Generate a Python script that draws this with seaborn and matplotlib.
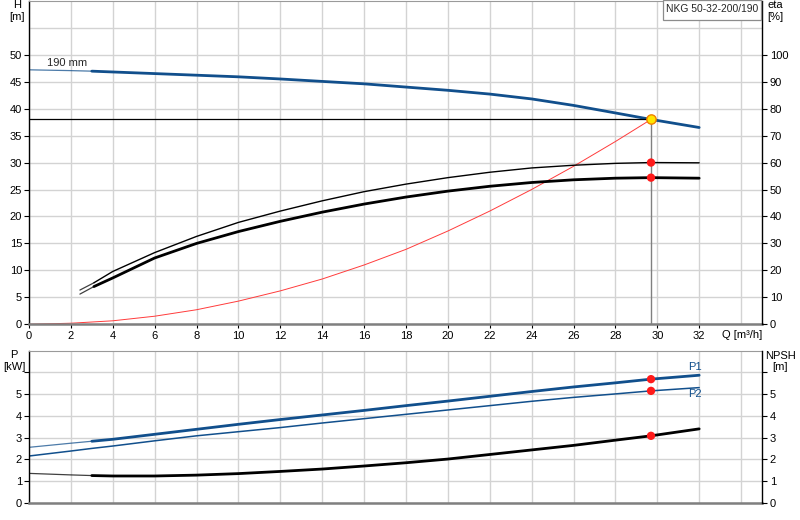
import matplotlib
matplotlib.use('Agg')
import matplotlib.pyplot as plt
from matplotlib.patches import Rectangle
import seaborn as sns

# pump curve data (Q in m3/h)
q = [0, 2, 3, 4, 6, 8, 10, 12, 14, 16, 18, 20, 22, 24, 26, 28, 29.7, 32]
head = [47.2, 47.05, 46.95, 46.8, 46.5, 46.2, 45.9, 45.5, 45.05, 44.6, 44.0,
        43.4, 42.7, 41.8, 40.6, 39.2, 38.0, 36.5]
p1 = [2.55, 2.74, 2.83, 2.92, 3.15, 3.38, 3.61, 3.83, 4.04, 4.25, 4.47,
      4.68, 4.90, 5.12, 5.33, 5.52, 5.69, 5.87]
p2 = [2.15, 2.38, 2.50, 2.61, 2.85, 3.08, 3.27, 3.46, 3.67, 3.87, 4.07,
      4.27, 4.47, 4.67, 4.85, 5.01, 5.15, 5.30]
npsh = [1.35, 1.28, 1.25, 1.23, 1.23, 1.27, 1.34, 1.44, 1.55, 1.69, 1.84,
        2.01, 2.22, 2.43, 2.64, 2.88, 3.08, 3.40]

# efficiency curves [%]
q_eta = [2.43, 3.1, 4, 6, 8, 10, 12, 14, 16, 18, 20, 22, 24, 26, 28, 29.7, 32]
eta_pump = [12.7, 15.4, 19.6, 26.6, 32.6, 37.8, 42.0, 45.8, 49.2, 52.0,
            54.4, 56.4, 58.0, 59.0, 59.7, 60.0, 59.9]
eta_total = [11.2, 14.0, 17.2, 24.6, 30.0, 34.4, 38.2, 41.6, 44.6, 47.2,
             49.4, 51.2, 52.6, 53.6, 54.2, 54.4, 54.2]

# system curve through the duty point
q_sys = [0, 2, 4, 6, 8, 10, 12, 14, 16, 18, 20, 22, 24, 26, 28, 29.7]
h_sys = [0, 0.2, 0.65, 1.5, 2.7, 4.3, 6.2, 8.4, 11.0, 13.9, 17.3, 21.0,
         25.0, 29.3, 33.9, 38.0]

q_duty = 29.7
h_duty = 38.0
pump_name = 'NKG 50-32-200/190'
impeller = '190 mm'

blue = '#114f8c'
grid_col = '#d3d3d3'
fs = 8
W, H = 800, 520

sns.set_theme(style='whitegrid')
plt.rcParams['font.family'] = ['Liberation Sans', 'DejaVu Sans']
plt.rcParams['font.size'] = fs


def curve(ax, x, y, n_thin, color, lw):
    # first part of the curve (outside the recommended range) is drawn thin
    if n_thin > 0:
        sns.lineplot(x=x[:n_thin + 1], y=y[:n_thin + 1], ax=ax, color=color,
                     lw=0.9, alpha=0.75, errorbar=None)
    sns.lineplot(x=x[n_thin:], y=y[n_thin:], ax=ax, color=color, lw=lw,
                 errorbar=None)


def style_axes(ax, twin, ymax, yticks, ylabels, xlabels):
    ax.set_xlim(0, 35)
    ax.set_ylim(0, ymax)
    ax.set_xticks(range(0, 33, 2))
    ax.set_xticks([34], minor=True)
    ax.set_yticks(yticks)
    ax.set_yticklabels(ylabels)
    ax.grid(which='both', color=grid_col, lw=1.0)
    ax.tick_params(which='minor', length=0)
    ax.tick_params(axis='y', which='major', length=3.5, width=0.8, pad=1.5,
                   labelsize=fs, colors='black', left=True)
    if xlabels:
        ax.tick_params(axis='x', which='major', length=3, width=0.8, pad=2,
                       labelsize=fs, colors='black', bottom=True)
    else:
        ax.tick_params(axis='x', which='major', length=0, labelbottom=False)
    ax.set_xlabel('')
    ax.set_ylabel('')
    ax.spines['left'].set_color('black')
    ax.spines['left'].set_linewidth(1.0)
    ax.spines['bottom'].set_color('#7f7f7f')
    ax.spines['bottom'].set_linewidth(1.8)
    ax.spines['top'].set_color('#9a9a9a')
    ax.spines['top'].set_linewidth(0.8)
    ax.spines['right'].set_visible(False)
    twin.grid(False)
    for s in ['left', 'top', 'bottom']:
        twin.spines[s].set_visible(False)
    twin.spines['right'].set_color('black')
    twin.spines['right'].set_linewidth(1.0)
    twin.tick_params(axis='y', length=3.5, width=0.8, pad=2, labelsize=fs,
                     colors='black', right=True)
    twin.set_xlabel('')
    twin.set_ylabel('')


fig = plt.figure(figsize=(8, 5.2), dpi=100)
ax_h = fig.add_axes([29 / W, 1 - 324.3 / H, 733 / W, 323.5 / H])
ax_eta = ax_h.twinx()
ax_p = fig.add_axes([29 / W, 1 - 502.7 / H, 733 / W, 152 / H])
ax_npsh = ax_p.twinx()

i_duty = q.index(q_duty)
j_duty = q_eta.index(q_duty)

# --- top: head, efficiency, system curve ---
ax_h.hlines(h_duty, 0, q_duty, color='black', lw=0.9, zorder=3)
ax_h.vlines(q_duty, 0, h_duty, color='#808080', lw=1.0, zorder=3)
sns.lineplot(x=q_sys, y=h_sys, ax=ax_h, color='#ff3b3b', lw=0.7,
             errorbar=None)
curve(ax_h, q, head, 2, blue, 2.0)
sns.scatterplot(x=[q_duty], y=[h_duty], ax=ax_h, color='#ffe600',
                edgecolor='#f08000', linewidth=1.0, s=45, zorder=6)
ax_h.text(0.88, 48.4, impeller, ha='left', va='center', fontsize=fs)

curve(ax_eta, q_eta, eta_pump, 1, 'black', 1.0)
curve(ax_eta, q_eta, eta_total, 1, 'black', 2.0)
sns.scatterplot(x=[q_duty, q_duty], y=[eta_pump[j_duty], eta_total[j_duty]],
                ax=ax_eta, color='#ff1a1a', edgecolor='none', s=36, zorder=6)

style_axes(ax_h, ax_eta, 60, list(range(0, 51, 5)),
           [str(v) for v in range(0, 51, 5)], True)
ax_h.set_yticks([55], minor=True)
ax_h.grid(which='both', color=grid_col, lw=1.0)
ax_eta.set_ylim(0, 120)
ax_eta.set_yticks(range(0, 101, 10))
ax_eta.set_xlim(0, 35)

# --- bottom: power and NPSH ---
curve(ax_p, q, p1, 2, blue, 2.0)
curve(ax_p, q, p2, 0, blue, 1.1)
sns.scatterplot(x=[q_duty, q_duty], y=[p1[i_duty], p2[i_duty]], ax=ax_p,
                color='#ff1a1a', edgecolor='none', s=36, zorder=6)
ax_p.text(31.82, 6.24, 'P1', color=blue, ha='center', va='center',
          fontsize=fs)
ax_p.text(31.82, 5.02, 'P2', color=blue, ha='center', va='center',
          fontsize=fs)

curve(ax_npsh, q, npsh, 2, 'black', 2.0)
sns.scatterplot(x=[q_duty], y=[npsh[i_duty]], ax=ax_npsh, color='#ff1a1a',
                edgecolor='none', s=36, zorder=6)

style_axes(ax_p, ax_npsh, 7, list(range(0, 7)),
           [str(v) for v in range(0, 6)] + [''], False)
ax_npsh.set_ylim(0, 7)
ax_npsh.set_yticks(range(0, 7))
ax_npsh.set_yticklabels([str(v) for v in range(0, 6)] + [''])
ax_npsh.set_xlim(0, 35)


# --- axis titles and pump name box ---
def ftext(x, y, s, **kw):
    fig.text(x / W, 1 - y / H, s, va='center', fontsize=fs, color='black',
             **kw)


ftext(17, 5, 'H', ha='center')
ftext(17, 17.5, '[m]', ha='center')
ftext(767, 5, 'eta', ha='left')
ftext(767, 17.5, '[%]', ha='left')
ftext(722, 335, 'Q [m³/h]', ha='left')
ftext(14, 355, 'P', ha='center')
ftext(14, 367.5, '[kW]', ha='center')
ftext(780, 356, 'NPSH', ha='center')
ftext(780, 367.5, '[m]', ha='center')

fig.patches.append(Rectangle((663 / W, 1 - 19.5 / H), 97.5 / W, 19.5 / H,
                             transform=fig.transFigure, fc='white',
                             ec='#8c8c8c', lw=0.9, zorder=10))
fig.text(712 / W, 1 - 8.5 / H, pump_name, ha='center', va='center',
         fontsize=7.4, zorder=11)

fig.savefig('out.png', dpi=100)
